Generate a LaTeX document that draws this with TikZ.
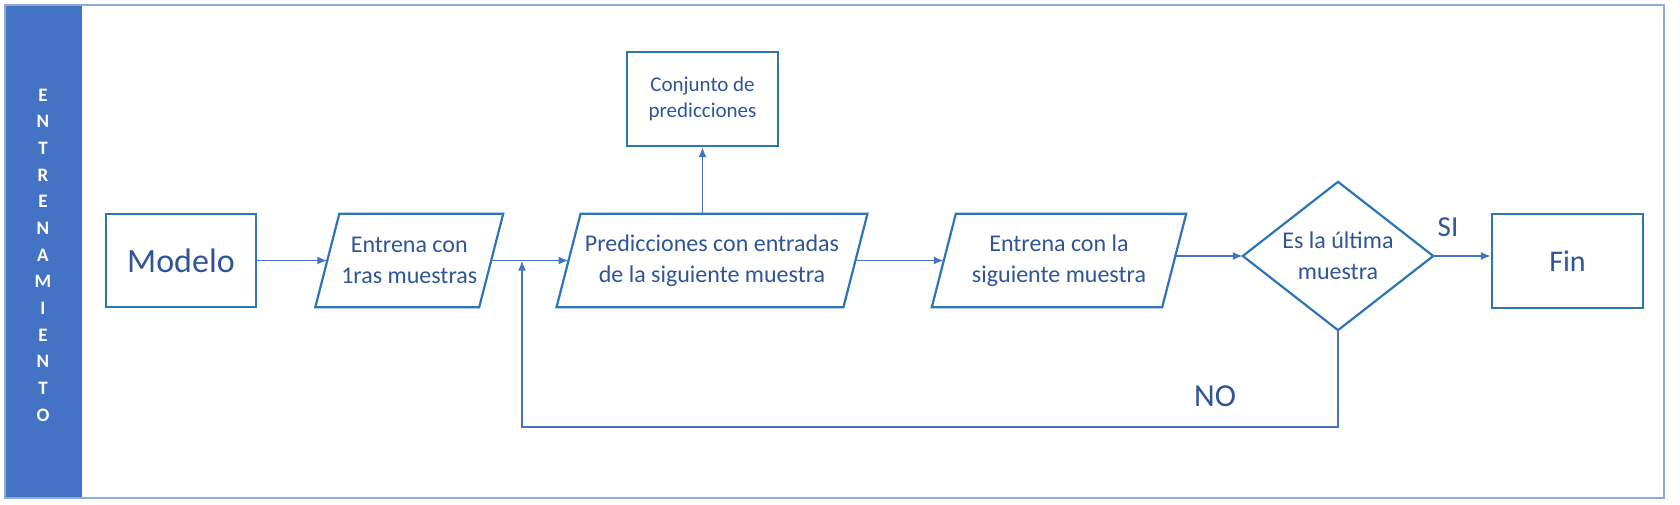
\documentclass[tikz,border=0pt]{standalone}
\usepackage{fontspec}
\setmainfont{Carlito}
\usetikzlibrary{arrows.meta}
\definecolor{bandc}{HTML}{4472C4}
\definecolor{framec}{HTML}{8FAADC}
\definecolor{boxc}{HTML}{2E75B6}
\definecolor{arrc}{HTML}{4472C4}
\definecolor{txt}{HTML}{2F5597}
\begin{document}
\begin{tikzpicture}[x=1pt,y=-1pt,
  boxline/.style={draw=boxc, line width=2.2pt},
  plainbox/.style={boxline, minimum width=#1, minimum height=93pt, inner sep=0pt, text=txt, align=center},
  shapebox/.style={minimum width=#1, minimum height=93pt, inner sep=0pt, text=txt, align=center},
  arr/.style={draw=arrc, line width=1.8pt, -{Latex[length=10pt,width=8pt]}},
  lbl/.style={text=txt},
  f24/.style={font=\fontsize{24}{31}\selectfont},
]
\useasboundingbox (0,0) rectangle (1680,505);
\fill[white] (0,0) rectangle (1680,505);
\fill[bandc] (5,5) rectangle (82,498);
\draw[framec, line width=2pt] (5,5) rectangle (1664,498);

\node[text=white, font=\fontsize{19}{26.67}\selectfont\bfseries, align=center] (title) at (43,255)
  {E\\N\\T\\R\\E\\N\\A\\M\\I\\E\\N\\T\\O};

\node[plainbox=150pt, font=\fontsize{34}{40}\selectfont] (mod) at (181,260.5) {Modelo};
\node[shapebox=163.5pt, f24] (p1) at (409.25,260.5) {Entrena con\\1ras muestras};
\node[shapebox=286.5pt, f24] (p2) at (712,260.5) {Predicciones con entradas\\de la siguiente muestra};
\node[shapebox=230pt, f24] (p3) at (1059,260.5) {Entrena con la\\siguiente muestra};
\node[shapebox=190pt, minimum height=148pt, f24] (dia) at (1338,256) {Es la última\\muestra};
\node[plainbox=151pt, minimum height=94pt, font=\fontsize{30}{36}\selectfont] (fin) at (1567.5,261) {Fin};
\node[plainbox=151pt, minimum height=94pt, font=\fontsize{21}{26}\selectfont] (conj) at (702.5,99) {Conjunto de\\predicciones};

\foreach \n in {p1,p2,p3}
  \draw[boxline] ([xshift=12pt]\n.north west) -- ([xshift=12pt]\n.north east)
    -- ([xshift=-12pt]\n.south east) -- ([xshift=-12pt]\n.south west) -- cycle;
\draw[boxline] (dia.north) -- (dia.east) -- (dia.south) -- (dia.west) -- cycle;

\coordinate (jn) at (522,260.5);
\draw[arr] (mod) -- (p1);
\draw[arr] (p1) -- (p2);
\draw[arr] (p2) -- (p3);
\draw[arr] (p3.east |- dia.west) -- (dia.west);
\draw[arr] (dia.east) -- (dia.east -| fin.west);
\draw[arr] (conj.south |- p2.north) -- (conj.south);
\draw[arr] (dia.south) -- ++(0,97) -| (jn);

\node[lbl, font=\fontsize{29}{34}\selectfont] (si) at (1448,227) {SI};
\node[lbl, font=\fontsize{32}{38}\selectfont] (no) at (1215,396) {NO};
\end{tikzpicture}
\end{document}
